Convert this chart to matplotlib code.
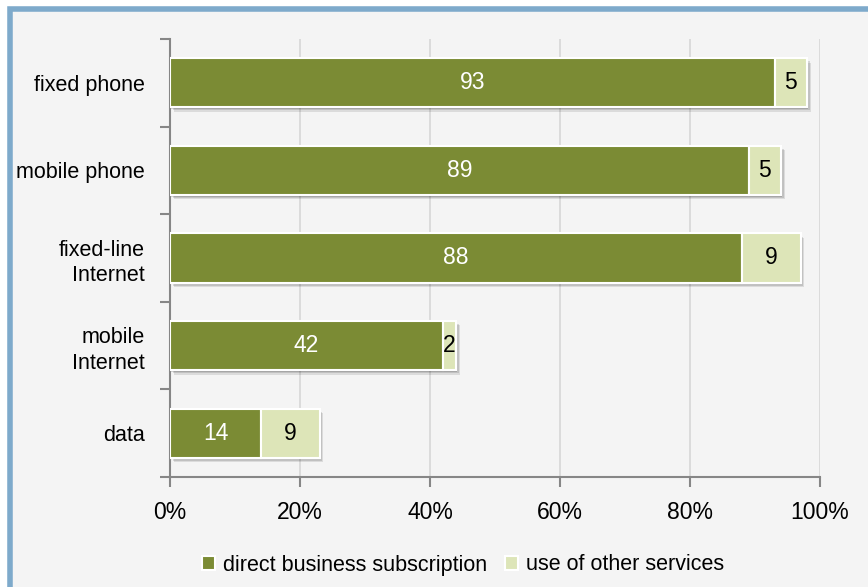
import numpy as np
import matplotlib.pyplot as plt
from matplotlib.patches import Rectangle

categorias = ['fixed phone', 'mobile phone', 'fixed-line\nInternet', 'mobile\nInternet', 'data']
directo = [93, 89, 88, 42, 14]
otros = [5, 5, 9, 2, 9]
series = ['direct business subscription', 'use of other services']
ticks_x = [0, 20, 40, 60, 80, 100]

plt.rcParams['font.family'] = ['Liberation Sans', 'DejaVu Sans']

verde = '#7b8b34'
verde_claro = '#dde5b8'
fondo = '#f4f4f4'
fs = 15.5

fig = plt.figure(figsize=(8.68, 5.87), dpi=100, facecolor='white')
# marco azul
fig.patches.append(Rectangle((9.5 / 868, -0.1), 1.2, (587 - 8.5) / 587 + 0.1,
                             transform=fig.transFigure, facecolor=fondo,
                             edgecolor='#7eaacb', linewidth=4, zorder=-10))

ax = fig.add_axes([170 / 868, 1 - 477 / 587, 650 / 868, 438 / 587])
ax.set_facecolor('none')

y = np.arange(len(categorias))
alto = 0.56

# sombras
tot = np.array(directo) + np.array(otros)
for dx, dy, a in [(0.6, 0.05, 0.10), (0.4, 0.035, 0.12), (0.2, 0.02, 0.15)]:
    ax.barh(y + dy, tot, left=dx, height=alto, color='black', alpha=a,
            linewidth=0, zorder=1)

b1 = ax.barh(y, directo, height=alto, color=verde, edgecolor='white',
             linewidth=1.5, label=series[0], zorder=3)
b2 = ax.barh(y, otros, left=directo, height=alto, color=verde_claro,
             edgecolor='white', linewidth=1.5, label=series[1], zorder=3)

for i in range(len(categorias)):
    ax.text(directo[i] / 2, y[i], str(directo[i]), ha='center', va='center',
            color='white', fontsize=fs + 1, zorder=5)
    ax.text(directo[i] + otros[i] / 2, y[i], str(otros[i]), ha='center',
            va='center', color='black', fontsize=fs + 1, zorder=5)

ax.set_xlim(0, 100)
ax.set_ylim(len(categorias) - 0.5, -0.5)
ax.set_xticks(ticks_x)
ax.set_xticklabels([f'{t}%' for t in ticks_x], fontsize=fs + 1)
ax.set_yticks(y)
ax.set_yticklabels(categorias, fontsize=fs, linespacing=1.3)
ax.set_yticks(np.arange(-0.5, len(categorias), 1), minor=True)
ax.tick_params(axis='y', which='major', length=0, pad=18)
ax.tick_params(axis='y', which='minor', length=7, width=1.5, color='#868686', direction='out')
ax.tick_params(axis='x', length=7, width=1.5, color='#868686', pad=10)
ax.grid(axis='x', color='#d9d9d9', linewidth=1.3, zorder=0)
ax.set_axisbelow(True)
for s in ['top', 'right']:
    ax.spines[s].set_visible(False)
for s in ['left', 'bottom']:
    ax.spines[s].set_color('#868686')
    ax.spines[s].set_linewidth(1.5)

leg = fig.legend(handles=[b1, b2], labels=series, loc='center',
                 bbox_to_anchor=(463 / 868, 1 - 565 / 587), ncol=2, frameon=False,
                 fontsize=fs, handlelength=0.6, handleheight=0.6,
                 handletextpad=0.4, columnspacing=0.8)

fig.savefig('out.png', dpi=100, facecolor='white')
